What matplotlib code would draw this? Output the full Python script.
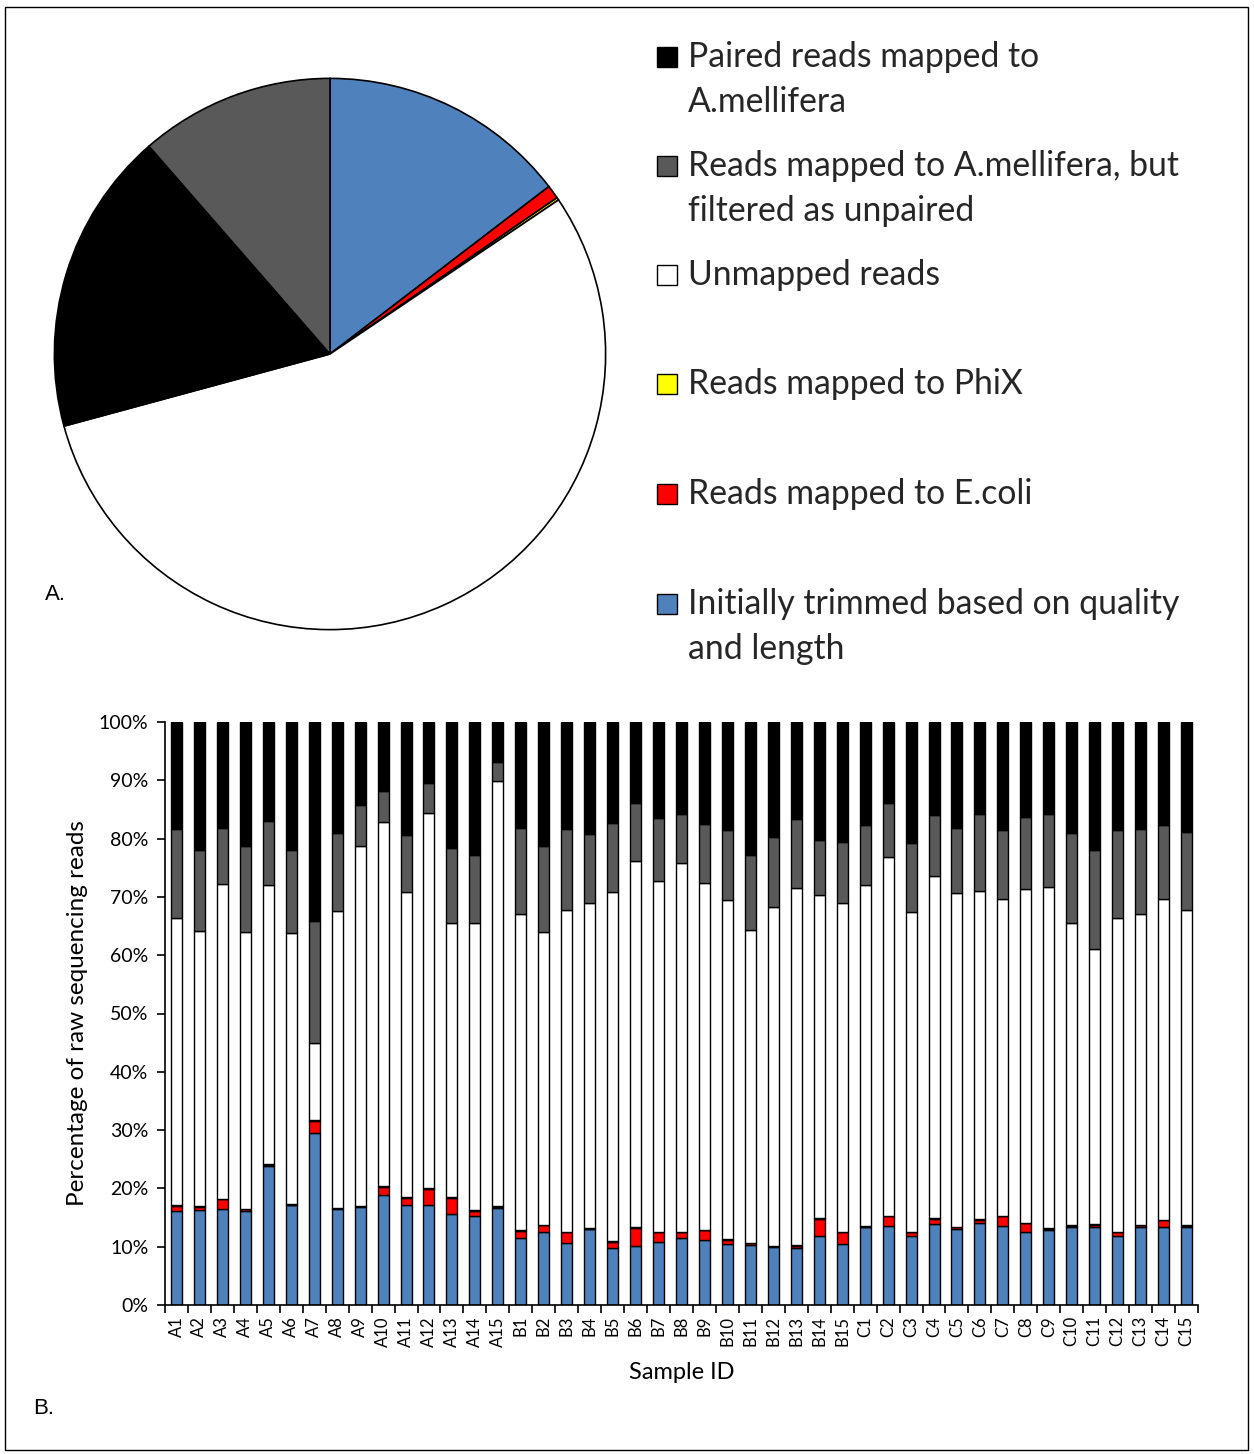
import matplotlib.pyplot as plt
import matplotlib.patches as mpatches
import numpy as np

plt.rcParams['font.family'] = ['Lato', 'DejaVu Sans']

W, H = 1254, 1454

# pie: share of all raw reads (%), clockwise from 12 o'clock
pie_values = [14.6, 0.8, 0.15, 55.2, 17.8, 11.4]
pie_colors = ['#4F81BD', '#FF0000', '#FFFF00', '#FFFFFF', '#000000', '#595959']

# legend, top to bottom
legend_labels = ["Paired reads mapped to\nA.mellifera",
                 "Reads mapped to A.mellifera, but\nfiltered as unpaired",
                 "Unmapped reads",
                 "Reads mapped to PhiX",
                 "Reads mapped to E.coli",
                 "Initially trimmed based on quality\nand length"]
legend_colors = ['#000000', '#595959', '#FFFFFF', '#FFFF00', '#FF0000', '#4F81BD']

# bar chart, per sample (%)
samples = ([f"A{i}" for i in range(1, 16)] + [f"B{i}" for i in range(1, 16)]
           + [f"C{i}" for i in range(1, 16)])
trimmed = [16.1, 16.3, 16.5, 16.2, 23.8, 17.1, 29.5, 16.5, 16.8, 18.9, 17.1, 17.1, 15.6, 15.3, 16.7,
           11.5, 12.5, 10.7, 13.0, 9.8, 10.2, 10.8, 11.5, 11.1, 10.4, 10.3, 9.9, 9.8, 11.9, 10.4,
           13.3, 13.6, 11.9, 13.9, 13.1, 14.1, 13.5, 12.6, 12.9, 13.3, 13.4, 11.9, 13.4, 13.3, 13.3]
ecoli = [0.9, 0.5, 1.6, 0.2, 0.2, 0.1, 2.1, 0.1, 0.1, 1.4, 1.3, 2.8, 2.8, 0.9, 0.1,
         1.2, 1.2, 1.8, 0.1, 1.0, 3.0, 1.7, 1.0, 1.7, 0.8, 0.3, 0.2, 0.4, 2.9, 2.1,
         0.1, 1.6, 0.6, 0.9, 0.2, 0.5, 1.7, 1.4, 0.2, 0.3, 0.4, 0.6, 0.3, 1.2, 0.3]
phix = [0.1, 0.1, 0.1, 0.1, 0.1, 0.1, 0.1, 0.1, 0.1, 0.1, 0.1, 0.1, 0.1, 0.1, 0.1,
        0.1, 0.1, 0.1, 0.1, 0.1, 0.1, 0.1, 0.1, 0.1, 0.1, 0.1, 0.1, 0.1, 0.1, 0.1,
        0.1, 0.1, 0.1, 0.1, 0.1, 0.1, 0.1, 0.1, 0.1, 0.1, 0.1, 0.1, 0.1, 0.1, 0.1]
# cumulative tops
unmapped_top = [66.4, 64.1, 72.2, 64.0, 72.1, 63.8, 44.9, 67.6, 78.7, 82.8, 70.9, 84.4, 65.6, 65.6, 89.8,
                67.0, 63.9, 67.8, 69.0, 70.9, 76.1, 72.7, 75.8, 72.3, 69.5, 64.4, 68.3, 71.5, 70.3, 68.9,
                72.0, 76.9, 67.4, 73.5, 70.7, 71.0, 69.7, 71.4, 71.7, 65.6, 61.0, 66.4, 67.0, 69.7, 67.8]
unpaired_top = [81.7, 78.0, 81.8, 78.8, 83.0, 78.1, 65.9, 81.0, 85.8, 88.2, 80.6, 89.6, 78.4, 77.2, 93.2,
                81.8, 78.7, 81.6, 80.8, 82.6, 86.1, 83.5, 84.3, 82.5, 81.5, 77.2, 80.2, 83.3, 79.8, 79.4,
                82.3, 86.1, 79.2, 84.0, 81.9, 84.2, 81.4, 83.7, 84.3, 80.9, 78.1, 81.4, 81.6, 82.3, 81.2]

trimmed = np.array(trimmed)
ecoli = np.array(ecoli)
phix = np.array(phix)
unmapped = np.array(unmapped_top) - (trimmed + ecoli + phix)
unpaired = np.array(unpaired_top) - np.array(unmapped_top)
paired = 100 - np.array(unpaired_top)
series = [trimmed, ecoli, phix, unmapped, unpaired, paired]
bar_colors = ['#4F81BD', '#FF0000', '#FFFF00', '#FFFFFF', '#595959', '#000000']

fig = plt.figure(figsize=(W / 100, H / 100), dpi=100)

def box(x0, y0, x1, y1):
    return [x0 / W, 1 - y1 / H, (x1 - x0) / W, (y1 - y0) / H]

# outer frame
fig.patches.append(mpatches.Rectangle((5 / W, 1 - 1450 / H), 1243 / W, 1443 / H,
                                      transform=fig.transFigure, fill=False,
                                      edgecolor='black', linewidth=1.0))

# --- A: pie
ax1 = fig.add_axes(box(53, 77, 607, 631))
ax1.pie(pie_values, colors=pie_colors, startangle=90, counterclock=False,
        wedgeprops=dict(edgecolor='black', linewidth=1.2))
ax1.set_xlim(-1.005, 1.005)
ax1.set_ylim(-1.005, 1.005)
ax1.set_aspect('equal')

row_y = [57, 166, 275, 384, 494, 604]
for lab, col, y in zip(legend_labels, legend_colors, row_y):
    fig.patches.append(mpatches.Rectangle((657 / W, 1 - (y + 10) / H), 20 / W, 20 / H,
                                          transform=fig.transFigure, facecolor=col,
                                          edgecolor='black', linewidth=1.0))
    for k, line in enumerate(lab.split("\n")):
        fig.text(688 / W, 1 - (y + 45 * k) / H, line, fontsize=24.3, va='center', ha='left',
                 color='#262626')

fig.text(45 / W, 1 - 595 / H, "A.", fontsize=16, va='center', family=['Liberation Sans'])
fig.text(33 / W, 1 - 1408 / H, "B.", fontsize=16, va='center', family=['Liberation Sans'])

# --- B: stacked bars
ax2 = fig.add_axes(box(165, 722, 1198, 1305))
x = np.arange(len(samples))
bottom = np.zeros(len(samples))
for vals, col in zip(series, bar_colors):
    ax2.bar(x, vals, bottom=bottom, width=0.48, color=col, edgecolor='black', linewidth=1.0)
    bottom = bottom + vals

ax2.set_xlim(-0.5, len(samples) - 0.5)
ax2.set_ylim(0, 100)
ax2.set_yticks(np.arange(0, 101, 10))
ax2.set_yticklabels([f"{v}%" for v in range(0, 101, 10)], fontsize=14)
ax2.set_xticks(x)
ax2.set_xticklabels(samples, rotation=90, fontsize=12)
ax2.set_xticks(np.arange(-0.5, len(samples), 1), minor=True)
ax2.tick_params(axis='x', which='major', length=0, pad=8)
ax2.tick_params(axis='x', which='minor', length=6, width=1.2)
ax2.tick_params(axis='y', length=6, width=1.2, pad=6)
for s in ['top', 'right']:
    ax2.spines[s].set_visible(False)
for s in ['left', 'bottom']:
    ax2.spines[s].set_linewidth(1.2)
ax2.set_ylabel("Percentage of raw sequencing reads", fontsize=17.5, labelpad=8)
ax2.set_xlabel("Sample ID", fontsize=17, labelpad=11)

fig.savefig("out.png", dpi=100)
